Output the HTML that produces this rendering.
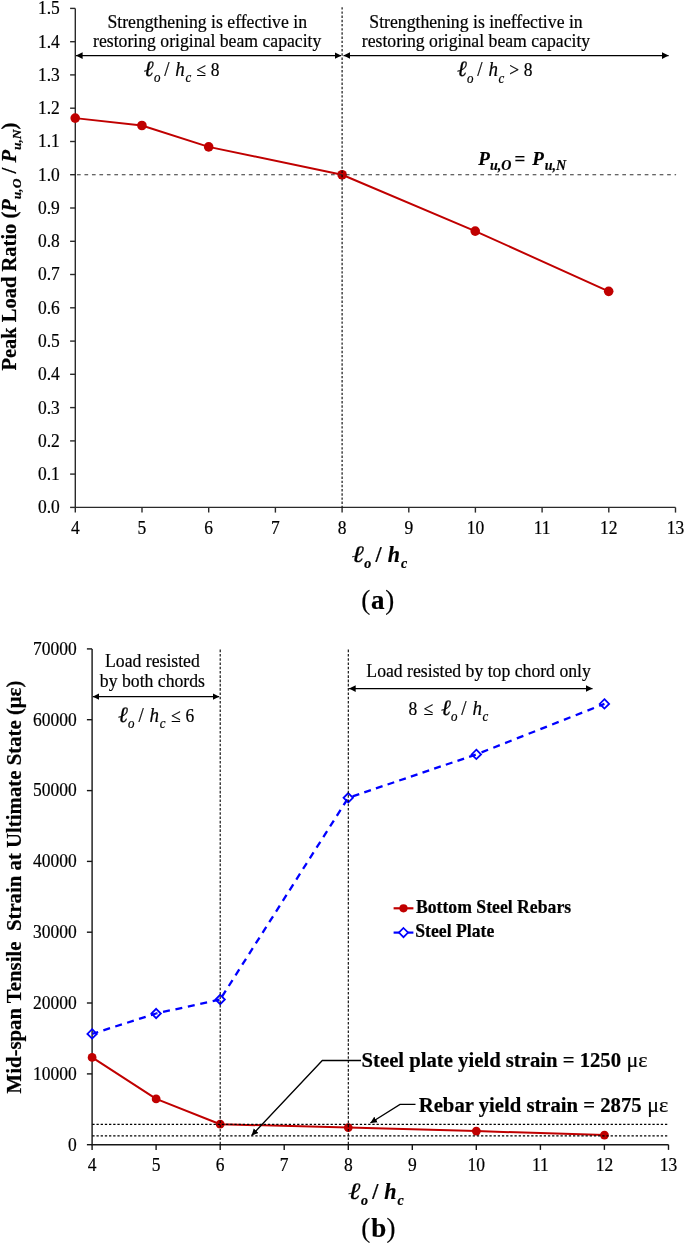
<!DOCTYPE html><html><head><meta charset="utf-8"><style>html,body{margin:0;padding:0;background:#fff;overflow:hidden;}svg{display:block;will-change:transform;}text{font-family:"Liberation Serif",serif;fill:#000;stroke:#000;stroke-width:0.2px;}</style></head><body>
<svg width="685" height="1244" viewBox="0 0 685 1244">
<defs><marker id="ah" viewBox="0 0 10 10" refX="10" refY="5" markerWidth="6.6" markerHeight="6.9" markerUnits="userSpaceOnUse" orient="auto-start-reverse"><path d="M0,0 L10,5 L0,10 z" fill="#000"/></marker></defs>
<path d="M75.3,8.4 V507.4 H675.5" fill="none" stroke="#2a2a2a" stroke-width="1.4"/>
<line x1="70.1" y1="507.4" x2="75.3" y2="507.4" stroke="#2a2a2a" stroke-width="1.4"/>
<text transform="translate(59.80,513.30) scale(1,1.08)" font-size="17.5" text-anchor="end">0.0</text>
<line x1="70.1" y1="474.1" x2="75.3" y2="474.1" stroke="#2a2a2a" stroke-width="1.4"/>
<text transform="translate(59.80,480.03) scale(1,1.08)" font-size="17.5" text-anchor="end">0.1</text>
<line x1="70.1" y1="440.9" x2="75.3" y2="440.9" stroke="#2a2a2a" stroke-width="1.4"/>
<text transform="translate(59.80,446.77) scale(1,1.08)" font-size="17.5" text-anchor="end">0.2</text>
<line x1="70.1" y1="407.6" x2="75.3" y2="407.6" stroke="#2a2a2a" stroke-width="1.4"/>
<text transform="translate(59.80,413.50) scale(1,1.08)" font-size="17.5" text-anchor="end">0.3</text>
<line x1="70.1" y1="374.3" x2="75.3" y2="374.3" stroke="#2a2a2a" stroke-width="1.4"/>
<text transform="translate(59.80,380.23) scale(1,1.08)" font-size="17.5" text-anchor="end">0.4</text>
<line x1="70.1" y1="341.1" x2="75.3" y2="341.1" stroke="#2a2a2a" stroke-width="1.4"/>
<text transform="translate(59.80,346.96) scale(1,1.08)" font-size="17.5" text-anchor="end">0.5</text>
<line x1="70.1" y1="307.8" x2="75.3" y2="307.8" stroke="#2a2a2a" stroke-width="1.4"/>
<text transform="translate(59.80,313.70) scale(1,1.08)" font-size="17.5" text-anchor="end">0.6</text>
<line x1="70.1" y1="274.5" x2="75.3" y2="274.5" stroke="#2a2a2a" stroke-width="1.4"/>
<text transform="translate(59.80,280.43) scale(1,1.08)" font-size="17.5" text-anchor="end">0.7</text>
<line x1="70.1" y1="241.3" x2="75.3" y2="241.3" stroke="#2a2a2a" stroke-width="1.4"/>
<text transform="translate(59.80,247.16) scale(1,1.08)" font-size="17.5" text-anchor="end">0.8</text>
<line x1="70.1" y1="208.0" x2="75.3" y2="208.0" stroke="#2a2a2a" stroke-width="1.4"/>
<text transform="translate(59.80,213.90) scale(1,1.08)" font-size="17.5" text-anchor="end">0.9</text>
<line x1="70.1" y1="174.7" x2="75.3" y2="174.7" stroke="#2a2a2a" stroke-width="1.4"/>
<text transform="translate(59.80,180.63) scale(1,1.08)" font-size="17.5" text-anchor="end">1.0</text>
<line x1="70.1" y1="141.5" x2="75.3" y2="141.5" stroke="#2a2a2a" stroke-width="1.4"/>
<text transform="translate(59.80,147.36) scale(1,1.08)" font-size="17.5" text-anchor="end">1.1</text>
<line x1="70.1" y1="108.2" x2="75.3" y2="108.2" stroke="#2a2a2a" stroke-width="1.4"/>
<text transform="translate(59.80,114.10) scale(1,1.08)" font-size="17.5" text-anchor="end">1.2</text>
<line x1="70.1" y1="74.9" x2="75.3" y2="74.9" stroke="#2a2a2a" stroke-width="1.4"/>
<text transform="translate(59.80,80.83) scale(1,1.08)" font-size="17.5" text-anchor="end">1.3</text>
<line x1="70.1" y1="41.7" x2="75.3" y2="41.7" stroke="#2a2a2a" stroke-width="1.4"/>
<text transform="translate(59.80,47.56) scale(1,1.08)" font-size="17.5" text-anchor="end">1.4</text>
<line x1="70.1" y1="8.4" x2="75.3" y2="8.4" stroke="#2a2a2a" stroke-width="1.4"/>
<text transform="translate(59.80,14.29) scale(1,1.08)" font-size="17.5" text-anchor="end">1.5</text>
<line x1="75.3" y1="507.4" x2="75.3" y2="512.6" stroke="#2a2a2a" stroke-width="1.4"/>
<text transform="translate(75.30,534.30) scale(1,1.08)" font-size="17.5" text-anchor="middle">4</text>
<line x1="142.0" y1="507.4" x2="142.0" y2="512.6" stroke="#2a2a2a" stroke-width="1.4"/>
<text transform="translate(141.99,534.30) scale(1,1.08)" font-size="17.5" text-anchor="middle">5</text>
<line x1="208.7" y1="507.4" x2="208.7" y2="512.6" stroke="#2a2a2a" stroke-width="1.4"/>
<text transform="translate(208.68,534.30) scale(1,1.08)" font-size="17.5" text-anchor="middle">6</text>
<line x1="275.4" y1="507.4" x2="275.4" y2="512.6" stroke="#2a2a2a" stroke-width="1.4"/>
<text transform="translate(275.37,534.30) scale(1,1.08)" font-size="17.5" text-anchor="middle">7</text>
<line x1="342.1" y1="507.4" x2="342.1" y2="512.6" stroke="#2a2a2a" stroke-width="1.4"/>
<text transform="translate(342.06,534.30) scale(1,1.08)" font-size="17.5" text-anchor="middle">8</text>
<line x1="408.8" y1="507.4" x2="408.8" y2="512.6" stroke="#2a2a2a" stroke-width="1.4"/>
<text transform="translate(408.75,534.30) scale(1,1.08)" font-size="17.5" text-anchor="middle">9</text>
<line x1="475.4" y1="507.4" x2="475.4" y2="512.6" stroke="#2a2a2a" stroke-width="1.4"/>
<text transform="translate(475.44,534.30) scale(1,1.08)" font-size="17.5" text-anchor="middle">10</text>
<line x1="542.1" y1="507.4" x2="542.1" y2="512.6" stroke="#2a2a2a" stroke-width="1.4"/>
<text transform="translate(542.13,534.30) scale(1,1.08)" font-size="17.5" text-anchor="middle">11</text>
<line x1="608.8" y1="507.4" x2="608.8" y2="512.6" stroke="#2a2a2a" stroke-width="1.4"/>
<text transform="translate(608.82,534.30) scale(1,1.08)" font-size="17.5" text-anchor="middle">12</text>
<line x1="675.5" y1="507.4" x2="675.5" y2="512.6" stroke="#2a2a2a" stroke-width="1.4"/>
<text transform="translate(675.51,534.30) scale(1,1.08)" font-size="17.5" text-anchor="middle">13</text>
<polyline fill="none" stroke="#C00000" stroke-width="1.95" stroke-linejoin="round" points="75.20,118.10 141.90,125.50 208.67,146.90 342.10,174.75 475.20,231.10 608.67,291.33"/>
<circle cx="75.20" cy="118.10" r="4.8" fill="#C00000"/>
<circle cx="141.90" cy="125.50" r="4.8" fill="#C00000"/>
<circle cx="208.67" cy="146.90" r="4.8" fill="#C00000"/>
<circle cx="342.10" cy="174.75" r="4.8" fill="#C00000"/>
<circle cx="475.20" cy="231.10" r="4.8" fill="#C00000"/>
<circle cx="608.67" cy="291.33" r="4.8" fill="#C00000"/>
<line x1="77.0" y1="174.7" x2="676.1" y2="174.7" stroke="#333" stroke-width="1.15" stroke-dasharray="3.7 3.77"/>
<line x1="342.1" y1="7.2" x2="342.1" y2="507.4" stroke="#000" stroke-width="1.1" stroke-dasharray="2.4 1.79"/>
<line x1="76.0" y1="55.6" x2="341.1" y2="55.6" stroke="#000" stroke-width="1.4" marker-start="url(#ah)" marker-end="url(#ah)"/>
<line x1="343.5" y1="55.6" x2="668.6" y2="55.6" stroke="#000" stroke-width="1.4" marker-start="url(#ah)" marker-end="url(#ah)"/>
<text transform="translate(207.20,27.50) scale(1,1.08)" font-size="17.7" text-anchor="middle">Strengthening is effective in</text>
<text transform="translate(207.20,47.40) scale(1,1.08)" font-size="17.7" text-anchor="middle">restoring original beam capacity</text>
<text transform="translate(476.00,27.50) scale(1,1.08)" font-size="17.7" text-anchor="middle">Strengthening is ineffective in</text>
<text transform="translate(476.00,47.40) scale(1,1.08)" font-size="17.7" text-anchor="middle">restoring original beam capacity</text>
<text transform="translate(143.81,75.70) scale(1.25,1.14)" font-size="19" font-style="italic">ℓ</text>
<text transform="translate(153.91,82.00) scale(1.0,1.08)" font-size="13" font-style="italic">o</text>
<text transform="translate(164.20,75.70) scale(1.0,1.14)" font-size="19">/</text>
<text transform="translate(175.31,75.70) scale(1.0,1.14)" font-size="19" font-style="italic">h</text>
<text transform="translate(185.50,82.00) scale(1.0,1.08)" font-size="13" font-style="italic">c</text>
<text transform="translate(196.27,75.70) scale(1.0,1.08)" font-size="17.5">≤</text>
<text transform="translate(210.63,75.70) scale(1.0,1.08)" font-size="17.5">8</text>
<text transform="translate(456.91,76.20) scale(1.25,1.14)" font-size="19" font-style="italic">ℓ</text>
<text transform="translate(467.01,82.50) scale(1.0,1.08)" font-size="13" font-style="italic">o</text>
<text transform="translate(477.30,76.20) scale(1.0,1.14)" font-size="19">/</text>
<text transform="translate(488.41,76.20) scale(1.0,1.14)" font-size="19" font-style="italic">h</text>
<text transform="translate(498.60,82.50) scale(1.0,1.08)" font-size="13" font-style="italic">c</text>
<text transform="translate(509.31,76.20) scale(1.0,1.08)" font-size="17.5">&gt;</text>
<text transform="translate(523.73,76.20) scale(1.0,1.08)" font-size="17.5">8</text>
<text x="478.21" y="164.70" font-size="19" font-weight="bold" font-style="italic">P</text>
<text x="489.89" y="170.30" font-size="14" font-weight="bold" font-style="italic">u,O</text>
<text x="514.55" y="164.70" font-size="19" font-weight="bold">=</text>
<text x="532.21" y="164.70" font-size="19" font-weight="bold" font-style="italic">P</text>
<text x="544.69" y="170.30" font-size="14" font-weight="bold" font-style="italic">u,N</text>
<text transform="translate(16.2,370.6) rotate(-90)" font-size="20.5" font-weight="bold">Peak Load Ratio (<tspan font-style="italic">P<tspan font-size="13.5" dy="5">u,O</tspan><tspan dy="-5" font-style="normal"> / </tspan>P<tspan font-size="13.5" dy="5">u,N</tspan></tspan><tspan dy="-5">)</tspan></text>
<text transform="translate(351.98,561.80) scale(1.35,1.07)" font-size="22" font-weight="bold" font-style="italic">ℓ</text>
<text transform="translate(364.28,567.90) scale(1.0,1.05)" font-size="14" font-weight="bold" font-style="italic">o</text>
<text transform="translate(375.61,561.80) scale(1.0,1.07)" font-size="22" font-weight="bold">/</text>
<text transform="translate(387.77,561.80) scale(1.0,1.07)" font-size="22" font-weight="bold" font-style="italic">h</text>
<text transform="translate(400.99,567.90) scale(1.0,1.05)" font-size="14" font-weight="bold" font-style="italic">c</text>
<text x="361.21" y="609.40" font-size="27">(</text>
<text x="371.03" y="609.40" font-size="27" font-weight="bold">a</text>
<text x="385.13" y="609.40" font-size="27">)</text>
<path d="M92.1,648.9 V1144.7 H668.5" fill="none" stroke="#161616" stroke-width="1.4"/>
<line x1="86.9" y1="1144.7" x2="92.1" y2="1144.7" stroke="#161616" stroke-width="1.4"/>
<text transform="translate(76.80,1150.50) scale(1,1.08)" font-size="17.5" text-anchor="end">0</text>
<line x1="86.9" y1="1073.9" x2="92.1" y2="1073.9" stroke="#161616" stroke-width="1.4"/>
<text transform="translate(76.80,1079.67) scale(1,1.08)" font-size="17.5" text-anchor="end">10000</text>
<line x1="86.9" y1="1003.0" x2="92.1" y2="1003.0" stroke="#161616" stroke-width="1.4"/>
<text transform="translate(76.80,1008.84) scale(1,1.08)" font-size="17.5" text-anchor="end">20000</text>
<line x1="86.9" y1="932.2" x2="92.1" y2="932.2" stroke="#161616" stroke-width="1.4"/>
<text transform="translate(76.80,938.01) scale(1,1.08)" font-size="17.5" text-anchor="end">30000</text>
<line x1="86.9" y1="861.4" x2="92.1" y2="861.4" stroke="#161616" stroke-width="1.4"/>
<text transform="translate(76.80,867.18) scale(1,1.08)" font-size="17.5" text-anchor="end">40000</text>
<line x1="86.9" y1="790.6" x2="92.1" y2="790.6" stroke="#161616" stroke-width="1.4"/>
<text transform="translate(76.80,796.36) scale(1,1.08)" font-size="17.5" text-anchor="end">50000</text>
<line x1="86.9" y1="719.7" x2="92.1" y2="719.7" stroke="#161616" stroke-width="1.4"/>
<text transform="translate(76.80,725.53) scale(1,1.08)" font-size="17.5" text-anchor="end">60000</text>
<line x1="86.9" y1="648.9" x2="92.1" y2="648.9" stroke="#161616" stroke-width="1.4"/>
<text transform="translate(76.80,654.70) scale(1,1.08)" font-size="17.5" text-anchor="end">70000</text>
<line x1="92.1" y1="1144.7" x2="92.1" y2="1149.9" stroke="#161616" stroke-width="1.4"/>
<text transform="translate(92.10,1171.30) scale(1,1.08)" font-size="17.5" text-anchor="middle">4</text>
<line x1="156.1" y1="1144.7" x2="156.1" y2="1149.9" stroke="#161616" stroke-width="1.4"/>
<text transform="translate(156.14,1171.30) scale(1,1.08)" font-size="17.5" text-anchor="middle">5</text>
<line x1="220.2" y1="1144.7" x2="220.2" y2="1149.9" stroke="#161616" stroke-width="1.4"/>
<text transform="translate(220.18,1171.30) scale(1,1.08)" font-size="17.5" text-anchor="middle">6</text>
<line x1="284.2" y1="1144.7" x2="284.2" y2="1149.9" stroke="#161616" stroke-width="1.4"/>
<text transform="translate(284.22,1171.30) scale(1,1.08)" font-size="17.5" text-anchor="middle">7</text>
<line x1="348.3" y1="1144.7" x2="348.3" y2="1149.9" stroke="#161616" stroke-width="1.4"/>
<text transform="translate(348.26,1171.30) scale(1,1.08)" font-size="17.5" text-anchor="middle">8</text>
<line x1="412.3" y1="1144.7" x2="412.3" y2="1149.9" stroke="#161616" stroke-width="1.4"/>
<text transform="translate(412.30,1171.30) scale(1,1.08)" font-size="17.5" text-anchor="middle">9</text>
<line x1="476.3" y1="1144.7" x2="476.3" y2="1149.9" stroke="#161616" stroke-width="1.4"/>
<text transform="translate(476.34,1171.30) scale(1,1.08)" font-size="17.5" text-anchor="middle">10</text>
<line x1="540.4" y1="1144.7" x2="540.4" y2="1149.9" stroke="#161616" stroke-width="1.4"/>
<text transform="translate(540.38,1171.30) scale(1,1.08)" font-size="17.5" text-anchor="middle">11</text>
<line x1="604.4" y1="1144.7" x2="604.4" y2="1149.9" stroke="#161616" stroke-width="1.4"/>
<text transform="translate(604.42,1171.30) scale(1,1.08)" font-size="17.5" text-anchor="middle">12</text>
<line x1="668.5" y1="1144.7" x2="668.5" y2="1149.9" stroke="#161616" stroke-width="1.4"/>
<text transform="translate(668.46,1171.30) scale(1,1.08)" font-size="17.5" text-anchor="middle">13</text>
<polyline fill="none" stroke="#C00000" stroke-width="2.0" stroke-linejoin="round" points="92.10,1057.45 156.14,1098.90 220.18,1124.20 348.26,1127.55 476.34,1131.10 604.42,1135.10"/>
<circle cx="92.10" cy="1057.45" r="4.4" fill="#C00000"/>
<circle cx="156.14" cy="1098.90" r="4.4" fill="#C00000"/>
<circle cx="220.18" cy="1124.20" r="4.4" fill="#C00000"/>
<circle cx="348.26" cy="1127.55" r="4.4" fill="#C00000"/>
<circle cx="476.34" cy="1131.10" r="4.4" fill="#C00000"/>
<circle cx="604.42" cy="1135.10" r="4.4" fill="#C00000"/>
<line x1="92.10" y1="1033.90" x2="156.14" y2="1013.50" stroke="#0000FF" stroke-width="2.3" stroke-dasharray="7.0 5.47" stroke-dashoffset="0.65"/>
<line x1="156.14" y1="1013.50" x2="220.18" y2="999.50" stroke="#0000FF" stroke-width="2.3" stroke-dasharray="7.0 5.70" stroke-dashoffset="5.64"/>
<line x1="220.18" y1="999.50" x2="348.26" y2="797.80" stroke="#0000FF" stroke-width="2.3" stroke-dasharray="7.0 5.60" stroke-dashoffset="9.20"/>
<line x1="348.26" y1="797.80" x2="476.34" y2="754.40" stroke="#0000FF" stroke-width="2.3" stroke-dasharray="7.0 5.30" stroke-dashoffset="7.70"/>
<line x1="476.34" y1="754.40" x2="604.42" y2="703.90" stroke="#0000FF" stroke-width="2.3" stroke-dasharray="7.0 5.65" stroke-dashoffset="7.05"/>
<path d="M92.10,1029.20 L96.80,1033.90 L92.10,1038.60 L87.40,1033.90 Z" fill="none" stroke="#0000FF" stroke-width="1.8"/>
<path d="M156.14,1008.80 L160.84,1013.50 L156.14,1018.20 L151.44,1013.50 Z" fill="none" stroke="#0000FF" stroke-width="1.8"/>
<path d="M220.18,994.80 L224.88,999.50 L220.18,1004.20 L215.48,999.50 Z" fill="none" stroke="#0000FF" stroke-width="1.8"/>
<path d="M348.26,793.10 L352.96,797.80 L348.26,802.50 L343.56,797.80 Z" fill="none" stroke="#0000FF" stroke-width="1.8"/>
<path d="M476.34,749.70 L481.04,754.40 L476.34,759.10 L471.64,754.40 Z" fill="none" stroke="#0000FF" stroke-width="1.8"/>
<path d="M604.42,699.20 L609.12,703.90 L604.42,708.60 L599.72,703.90 Z" fill="none" stroke="#0000FF" stroke-width="1.8"/>
<line x1="92.3" y1="1124.34" x2="667.5" y2="1124.34" stroke="#000" stroke-width="1.2" stroke-dasharray="2.3 1.88"/>
<line x1="92.3" y1="1135.85" x2="667.5" y2="1135.85" stroke="#000" stroke-width="1.2" stroke-dasharray="2.3 1.88"/>
<line x1="220.2" y1="649.6" x2="220.2" y2="1144.7" stroke="#000" stroke-width="1.1" stroke-dasharray="2.6 1.68"/>
<line x1="348.3" y1="649.6" x2="348.3" y2="1144.7" stroke="#000" stroke-width="1.1" stroke-dasharray="2.6 1.68"/>
<line x1="92.8" y1="696.6" x2="219.2" y2="696.6" stroke="#000" stroke-width="1.4" marker-start="url(#ah)" marker-end="url(#ah)"/>
<line x1="349.1" y1="688.6" x2="592.5" y2="688.6" stroke="#000" stroke-width="1.4" marker-start="url(#ah)" marker-end="url(#ah)"/>
<text transform="translate(152.40,667.10) scale(1,1.08)" font-size="17.7" text-anchor="middle">Load resisted</text>
<text transform="translate(152.40,687.10) scale(1,1.08)" font-size="17.7" text-anchor="middle">by both chords</text>
<text transform="translate(478.60,677.30) scale(1,1.08)" font-size="17.7" text-anchor="middle">Load resisted by top chord only</text>
<text transform="translate(118.01,721.70) scale(1.25,1.14)" font-size="19" font-style="italic">ℓ</text>
<text transform="translate(128.11,728.00) scale(1.0,1.08)" font-size="13" font-style="italic">o</text>
<text transform="translate(138.40,721.70) scale(1.0,1.14)" font-size="19">/</text>
<text transform="translate(149.51,721.70) scale(1.0,1.14)" font-size="19" font-style="italic">h</text>
<text transform="translate(159.70,728.00) scale(1.0,1.08)" font-size="13" font-style="italic">c</text>
<text transform="translate(171.07,721.70) scale(1.0,1.08)" font-size="17.5">≤</text>
<text transform="translate(185.45,721.70) scale(1.0,1.08)" font-size="17.5">6</text>
<text transform="translate(408.53,715.10) scale(1.0,1.08)" font-size="17.5">8</text>
<text transform="translate(423.57,715.10) scale(1.0,1.08)" font-size="17.5">≤</text>
<text transform="translate(440.91,715.10) scale(1.25,1.14)" font-size="19" font-style="italic">ℓ</text>
<text transform="translate(451.01,721.40) scale(1.0,1.08)" font-size="13" font-style="italic">o</text>
<text transform="translate(461.30,715.10) scale(1.0,1.14)" font-size="19">/</text>
<text transform="translate(472.41,715.10) scale(1.0,1.14)" font-size="19" font-style="italic">h</text>
<text transform="translate(482.60,721.40) scale(1.0,1.08)" font-size="13" font-style="italic">c</text>
<line x1="393.6" y1="908.3" x2="413.4" y2="908.3" stroke="#C00000" stroke-width="2.2"/><circle cx="403.5" cy="908.3" r="4.1" fill="#C00000"/>
<line x1="393.6" y1="932.6" x2="413.4" y2="932.6" stroke="#0000FF" stroke-width="2.2"/><path d="M403.5,928 L408.1,932.6 L403.5,937.2 L398.9,932.6 Z" fill="#fff" stroke="#0000FF" stroke-width="1.7"/>
<text transform="translate(415.91,913.30) scale(1,1.08)" font-size="17.7" font-weight="bold">Bottom Steel Rebars</text>
<text transform="translate(415.26,937.30) scale(1,1.08)" font-size="17.7" font-weight="bold">Steel Plate</text>
<path d="M361,1060.5 H322.3 L251.6,1135.5" fill="none" stroke="#000" stroke-width="1.3" marker-end="url(#ah)"/>
<path d="M415.5,1104.4 H400 L370.4,1123" fill="none" stroke="#000" stroke-width="1.3" marker-end="url(#ah)"/>
<text x="361.60" y="1066.8" font-size="20.7" font-weight="bold">Steel plate yield strain = 1250<tspan font-weight="normal" font-size="22"> με</tspan></text>
<text x="418.75" y="1111.7" font-size="20.7" font-weight="bold">Rebar yield strain = 2875<tspan font-weight="normal" font-size="22"> με</tspan></text>
<text transform="translate(21,1093.5) rotate(-90)" font-size="20.8" font-weight="bold" xml:space="preserve">Mid-span Tensile  Strain at Ultimate State (με)</text>
<text transform="translate(348.58,1198.70) scale(1.35,1.07)" font-size="22" font-weight="bold" font-style="italic">ℓ</text>
<text transform="translate(360.88,1204.80) scale(1.0,1.05)" font-size="14" font-weight="bold" font-style="italic">o</text>
<text transform="translate(372.21,1198.70) scale(1.0,1.07)" font-size="22" font-weight="bold">/</text>
<text transform="translate(384.37,1198.70) scale(1.0,1.07)" font-size="22" font-weight="bold" font-style="italic">h</text>
<text transform="translate(397.59,1204.80) scale(1.0,1.05)" font-size="14" font-weight="bold" font-style="italic">c</text>
<text x="361.21" y="1237.20" font-size="27">(</text>
<text x="371.26" y="1237.20" font-size="27" font-weight="bold">b</text>
<text x="386.43" y="1237.20" font-size="27">)</text>
</svg></body></html>
